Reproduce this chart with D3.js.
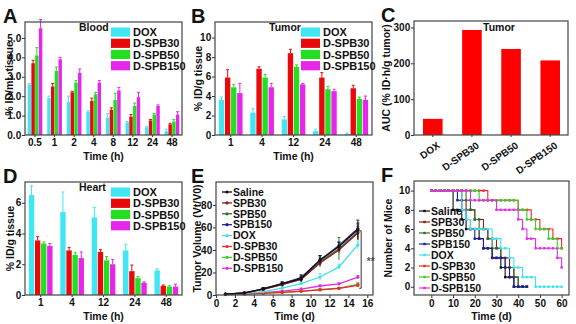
<!DOCTYPE html>
<html>
<head>
<meta charset="utf-8">
<script src="https://cdn.jsdelivr.net/npm/d3@7"></script>
<style>
  body { margin: 0; background: #fff; }
  svg { display: block; }
</style>
</head>
<body>
<svg id="fig" width="576" height="324"></svg>
<script>
const FONT = '"Liberation Sans", Arial, sans-serif';

// Shared series for the grouped bar panels (A, B, D)
const barNames = ["DOX", "D-SPB30", "D-SPB50", "D-SPB150"];
const barColors = ["#3fe6f4", "#e9080c", "#22df22", "#e626e8"];

// A: blood
const bloodTimes = ["0.5", "1", "2", "4", "8", "12", "24", "48"];
const bloodDOX = [2.6, 1.9, 1.7, 1.2, 0.9, 0.65, 0.4, 0.2];
const bloodSPB30 = [3.7, 2.5, 2.2, 1.75, 1.3, 0.95, 0.75, 0.55];
const bloodSPB50 = [4.1, 3.3, 2.7, 2.1, 1.8, 1.5, 1.05, 0.7];
const bloodSPB150 = [5.5, 3.9, 3.2, 2.7, 2.3, 1.95, 1.5, 1.05];
const bloodErrDOX = [0.05, 0.1, 0.3, 0.05, 0.2, 0.05, 0.05, 0.1];
const bloodErrSPB30 = [0.15, 0.15, 0.05, 0.15, 0.1, 0.1, 0.05, 0.05];
const bloodErrSPB50 = [0.4, 0.2, 0.1, 0.1, 0.35, 0.15, 0.05, 0.1];
const bloodErrSPB150 = [0.45, 0.1, 0.2, 0.1, 0.15, 0.25, 0.05, 0.15];

// B: tumor
const tumorTimes = ["1", "4", "12", "24", "48"];
const tumorDOX = [3.6, 2.3, 1.6, 0.4, 0.1];
const tumorSPB30 = [5.9, 6.8, 8.4, 5.9, 4.8];
const tumorSPB50 = [4.9, 5.9, 7.0, 4.7, 3.7];
const tumorSPB150 = [4.3, 4.9, 5.2, 4.5, 3.6];
const tumorErrDOX = [0.3, 0.4, 0.3, 0.2, 0.1];
const tumorErrSPB30 = [0.8, 0.2, 0.4, 0.5, 0.3];
const tumorErrSPB50 = [0.3, 0.3, 0.2, 0.3, 0.2];
const tumorErrSPB150 = [1.0, 0.4, 0.1, 0.2, 0.4];

// C: tumor AUC
const aucNames = ["DOX", "D-SPB30", "D-SPB50", "D-SPB150"];
const aucValues = [45, 293, 240, 208];

// D: heart
const heartTimes = ["1", "4", "12", "24", "48"];
const heartDOX = [6.5, 5.4, 5.05, 2.9, 1.6];
const heartSPB30 = [3.55, 2.9, 2.8, 1.55, 0.6];
const heartSPB50 = [3.35, 2.6, 2.25, 1.1, 0.55];
const heartSPB150 = [3.2, 2.4, 2.0, 0.8, 0.55];
const heartErrDOX = [0.6, 1.3, 0.65, 0.4, 0.1];
const heartErrSPB30 = [0.25, 0.2, 0.15, 0.4, 0.05];
const heartErrSPB50 = [0.1, 0.15, 0.25, 0.1, 0.05];
const heartErrSPB150 = [0.15, 0.4, 0.3, 0.05, 0.15];

// E: tumor volume
const volumeDays = [1, 3, 5, 7, 9, 11, 13, 15];
const volumeNames = ["Saline", "SPB30", "SPB50", "SPB150", "DOX", "D-SPB30", "D-SPB50", "D-SPB150"];
const volumeColors = ["#111111", "#8a1f1f", "#2f6f2f", "#1d1f9c", "#3fe0ee", "#f02828", "#3ccc2c", "#e22ee2"];
const volSaline = [0.8, 1.8, 5.5, 10, 14.5, 31, 43, 58];
const volSPB30 = [0.8, 1.7, 5, 9.2, 13.8, 28.5, 40, 55];
const volSPB50 = [0.8, 1.7, 5.2, 9.5, 14, 29.5, 41, 56];
const volSPB150 = [0.8, 1.8, 5.6, 10.2, 15.5, 31, 44, 59];
const volDOX = [0.6, 1.3, 3, 6.2, 10.2, 16, 25, 44.5];
const volDSPB30 = [0.4, 0.8, 1.5, 2.3, 3.3, 4.5, 5.8, 8.5];
const volDSPB50 = [0.4, 0.9, 1.6, 2.4, 3.5, 4.8, 6, 9.5];
const volDSPB150 = [0.5, 1, 2, 3.5, 5.3, 8, 9.8, 15.8];
const volErrSaline = [0.3, 0.5, 1, 1.5, 2.5, 4, 4, 8.5];
const volErrSPB30 = [0.3, 0.5, 1, 1.5, 2, 3.5, 3, 6];
const volErrSPB50 = [0.3, 0.5, 1, 1.5, 2, 4, 10, 7];
const volErrSPB150 = [0.3, 0.5, 1, 1.5, 2.5, 4, 3, 5];
const volErrDOX = [0.2, 0.3, 0.8, 1.2, 1.5, 3, 2.5, 3.5];
const volErrDSPB30 = [0.1, 0.2, 0.3, 0.5, 0.6, 0.8, 0.8, 1.2];
const volErrDSPB50 = [0.1, 0.2, 0.3, 0.5, 0.6, 0.8, 0.8, 1.5];
const volErrDSPB150 = [0.1, 0.2, 0.4, 0.6, 0.8, 1, 1, 1.5];

// F: survival, number of mice alive on each observation day
const survivalDays = [0, 2, 4, 6, 8, 10, 12, 14, 16, 18, 20, 22, 24, 26, 28, 30,
                      32, 34, 36, 38, 40, 42, 44, 46, 48, 50, 52, 54, 56, 58, 60];
const surSaline = [10, 10, 10, 10, 10, 8, 8, 7, 6, 6, 6, 5, 4, 4, 3, 3, 2, 1, 1, 0, 0, 0, 0];
const surSPB30 = [10, 10, 10, 10, 10, 10, 10, 9, 8, 8, 7, 7, 6, 5, 5, 4, 3, 3, 2, 1, 0, 0, 0];
const surSPB50 = [10, 10, 10, 10, 10, 10, 10, 10, 9, 8, 7, 6, 6, 5, 4, 4, 3, 2, 2, 1, 0, 0, 0];
const surSPB150 = [10, 10, 10, 10, 10, 10, 9, 8, 7, 6, 5, 5, 4, 4, 3, 3, 3, 2, 1, 0, 0, 0, 0];
const surDOX = [10, 10, 10, 10, 10, 10, 10, 8, 7, 6, 6, 6, 6, 6, 5, 5, 4, 4, 3, 2, 2, 1, 1, 1, 0, 0, 0, 0, 0, 0, 0];
const surDSPB30 = [10, 10, 10, 10, 10, 10, 10, 10, 10, 10, 10, 10, 10, 9, 9, 9, 9, 9, 9, 9, 8, 8, 8, 7, 7, 6, 6, 6, 5, 5, 4];
const surDSPB50 = [10, 10, 10, 10, 10, 10, 10, 10, 10, 10, 10, 9, 9, 9, 9, 9, 9, 9, 9, 9, 8, 8, 7, 7, 6, 6, 6, 5, 5, 4, 4];
const surDSPB150 = [10, 10, 10, 10, 10, 10, 10, 10, 10, 9, 9, 9, 9, 9, 9, 8, 8, 8, 8, 8, 7, 6, 5, 5, 4, 4, 4, 4, 4, 3, 2];

const svg = d3.select("#fig").attr("font-family", FONT).attr("font-weight", "bold");

// Axes, frame, titles and panel letter shared by every panel.
const drawFrame = (box, x, y, opt) => {
    const g = svg.append("g");

    const left = g.append("g")
        .attr("transform", `translate(${box.l},0)`)
        .call(d3.axisLeft(y).tickValues(opt.yTicks).tickSize(3).tickPadding(0.8));

    const bottom = g.append("g")
        .attr("transform", `translate(0,${box.b})`)
        .call(d3.axisBottom(x).tickValues(opt.xTicks).tickSize(opt.xTickSize ?? 3).tickPadding(2.3));

    g.selectAll(".domain").remove();
    g.selectAll(".tick line").attr("stroke", "#333").attr("stroke-width", 1);
    [left, bottom].forEach(a => a.attr("font-family", FONT).attr("font-size", 10).attr("font-weight", "bold"));
    g.selectAll("text").attr("fill", "#111");

    svg.append("rect")
        .attr("x", box.l).attr("y", box.t)
        .attr("width", box.r - box.l).attr("height", box.b - box.t)
        .attr("fill", "none").attr("stroke", "#444").attr("stroke-width", 1.2);

    svg.append("text")
        .attr("transform", `translate(${opt.yTitleX},${(box.t + box.b) / 2}) rotate(-90)`)
        .attr("text-anchor", "middle").attr("dy", "0.35em")
        .style("font-size", "10.5px").style("fill", "#111")
        .text(opt.yTitle);

    if (opt.xTitle) {
        svg.append("text")
            .attr("x", (box.l + box.r) / 2).attr("y", opt.xTitleY)
            .attr("text-anchor", "middle")
            .style("font-size", "10.5px").style("fill", "#111")
            .text(opt.xTitle);
    }

    svg.append("text")
        .attr("x", opt.letterX).attr("y", box.t + 1)
        .style("font-size", "20px").style("fill", "#111")
        .text(opt.letter);

    return bottom;
};

// Grouped bars with upward error bars and a swatch legend.
const drawGroupedBars = (box, cats, values, errors, yMax, yTicks, tag, opt) => {
    const x0 = d3.scaleBand().domain(cats).range([box.l, box.r]).paddingInner(opt.padInner).paddingOuter(opt.padOuter);
    const x1 = d3.scaleBand().domain(barNames).range([0, x0.bandwidth()]).padding(opt.barPad);
    const y = d3.scaleLinear().domain([0, yMax]).range([box.b, box.t]);

    const rows = cats.flatMap((c, i) => barNames.map((s, k) => ({
        cat: c, series: s, color: barColors[k], v: values[k][i], e: errors[k][i]
    })));

    const g = svg.append("g");
    g.selectAll("rect")
        .data(rows)
        .join("rect")
        .attr("x", d => x0(d.cat) + x1(d.series))
        .attr("y", d => y(d.v))
        .attr("width", x1.bandwidth())
        .attr("height", d => y(0) - y(d.v))
        .attr("fill", d => d.color);

    const cx = d => x0(d.cat) + x1(d.series) + x1.bandwidth() / 2;
    g.selectAll("line.err")
        .data(rows)
        .join("line")
        .attr("x1", cx).attr("x2", cx)
        .attr("y1", d => y(d.v)).attr("y2", d => y(d.v + d.e))
        .attr("stroke", d => d.color).attr("stroke-width", 1);
    g.selectAll("line.cap")
        .data(rows)
        .join("line")
        .attr("x1", d => cx(d) - 1.5).attr("x2", d => cx(d) + 1.5)
        .attr("y1", d => y(d.v + d.e)).attr("y2", d => y(d.v + d.e))
        .attr("stroke", d => d.color).attr("stroke-width", 1);

    drawFrame(box, x0, y, { ...opt, yTicks, xTicks: cats, xTickSize: 2 });

    // legend
    svg.append("text")
        .attr("x", box.l + 54).attr("y", box.t + 9)
        .style("font-size", "10.5px").style("fill", "#111")
        .text(tag);
    const leg = svg.append("g").attr("transform", `translate(${box.l + 86},${box.t + 5.5})`);
    barNames.forEach((name, k) => {
        leg.append("rect")
            .attr("x", 0).attr("y", k * 11.2)
            .attr("width", 19).attr("height", 9.2)
            .attr("fill", barColors[k]);
        leg.append("text")
            .attr("x", 22).attr("y", k * 11.2 + 8.6)
            .style("font-size", "11px").style("fill", "#111")
            .text(name);
    });
};

// A
drawGroupedBars(
    { l: 25, r: 182, t: 22, b: 135 }, bloodTimes,
    [bloodDOX, bloodSPB30, bloodSPB50, bloodSPB150],
    [bloodErrDOX, bloodErrSPB30, bloodErrSPB50, bloodErrSPB150],
    5.82, [0, 1, 2, 3, 4, 5], "Blood",
    { padInner: 0.22, padOuter: 0.12, barPad: 0.08, yTitle: "% ID/mL tissue", yTitleX: 9.5,
      xTitle: "Time (h)", xTitleY: 159.5, letter: "A", letterX: 3 }
);

// B
drawGroupedBars(
    { l: 215, r: 372, t: 22, b: 135 }, tumorTimes,
    [tumorDOX, tumorSPB30, tumorSPB50, tumorSPB150],
    [tumorErrDOX, tumorErrSPB30, tumorErrSPB50, tumorErrSPB150],
    11.6, [0, 2, 4, 6, 8, 10], "Tumor",
    { padInner: 0.2, padOuter: 0.1, barPad: 0.12, yTitle: "% ID/g tissue", yTitleX: 198,
      xTitle: "Time (h)", xTitleY: 159.5, letter: "B", letterX: 191 }
);

// D
drawGroupedBars(
    { l: 25, r: 182, t: 182, b: 295 }, heartTimes,
    [heartDOX, heartSPB30, heartSPB50, heartSPB150],
    [heartErrDOX, heartErrSPB30, heartErrSPB50, heartErrSPB150],
    7.35, [0, 2, 4, 6], "Heart",
    { padInner: 0.2, padOuter: 0.1, barPad: 0.12, yTitle: "% ID/g tissue", yTitleX: 10,
      xTitle: "Time (h)", xTitleY: 320, letter: "D", letterX: 3 }
);

// C: AUC bars
{
    const box = { l: 414, r: 568, t: 21, b: 135 };
    const x = d3.scaleBand().domain(aucNames).range([box.l, box.r + 1]).paddingInner(0.5).paddingOuter(0.23);
    const y = d3.scaleLinear().domain([0, 318]).range([box.b, box.t]);

    svg.append("g").selectAll("rect")
        .data(aucNames.map((n, i) => ({ n, v: aucValues[i] })))
        .join("rect")
        .attr("x", d => x(d.n)).attr("y", d => y(d.v))
        .attr("width", x.bandwidth()).attr("height", d => y(0) - y(d.v))
        .attr("fill", "#ff0000");

    const bottom = drawFrame(box, x, y, {
        yTicks: [0, 100, 200, 300], xTicks: aucNames, xTickSize: 2,
        yTitle: "AUC (% ID·h/g tumor)", yTitleX: 386, letter: "C", letterX: 381
    });
    bottom.selectAll(".tick text")
        .attr("y", 0).attr("dy", 0)
        .attr("transform", "translate(8,12) rotate(-35)")
        .attr("text-anchor", "end");

    svg.append("text")
        .attr("x", box.l + 69).attr("y", box.t + 10)
        .style("font-size", "10.5px").style("fill", "#111")
        .text("Tumor");
}

// E: tumor growth curves
{
    const box = { l: 216, r: 373, t: 182, b: 295 };
    const x = d3.scaleLinear().domain([0, 16.6]).range([box.l, box.r]);
    const y = d3.scaleLinear().domain([0, 100.4]).range([box.b, box.t]);
    const vals = [volSaline, volSPB30, volSPB50, volSPB150, volDOX, volDSPB30, volDSPB50, volDSPB150];
    const errs = [volErrSaline, volErrSPB30, volErrSPB50, volErrSPB150, volErrDOX, volErrDSPB30, volErrDSPB50, volErrDSPB150];
    const line = d3.line().x(d => x(d.t)).y(d => y(d.v));

    // draw treated groups first so the control curves sit on top
    d3.range(volumeNames.length).reverse().forEach(k => {
        const pts = volumeDays.map((t, i) => ({ t, v: vals[k][i], e: errs[k][i] }));
        const g = svg.append("g").attr("stroke", volumeColors[k]).attr("fill", volumeColors[k]);
        g.append("path").datum(pts).attr("d", line).attr("fill", "none").attr("stroke-width", 1.3);
        g.selectAll("line.e").data(pts).join("line")
            .attr("x1", d => x(d.t)).attr("x2", d => x(d.t))
            .attr("y1", d => y(d.v - d.e)).attr("y2", d => y(d.v + d.e))
            .attr("stroke-width", 0.9);
        g.selectAll("line.c").data(pts).join("line")
            .attr("x1", d => x(d.t) - 1.5).attr("x2", d => x(d.t) + 1.5)
            .attr("y1", d => y(d.v + d.e)).attr("y2", d => y(d.v + d.e))
            .attr("stroke-width", 0.9);
        g.selectAll("circle").data(pts).join("circle")
            .attr("cx", d => x(d.t)).attr("cy", d => y(d.v)).attr("r", 1.6)
            .attr("stroke", "none");
    });

    // significance bracket between control and treated groups
    const bx = x(15.35);
    svg.append("path")
        .attr("d", `M${bx - 2},${y(57)}H${bx}V${y(6)}H${bx - 2}`)
        .attr("fill", "none").attr("stroke", "#333").attr("stroke-width", 1);
    svg.append("text")
        .attr("x", x(15.95)).attr("y", y(31)).attr("dy", "0.5em")
        .style("font-size", "10px").style("fill", "#555")
        .text("**");

    drawFrame(box, x, y, {
        yTicks: [0, 20, 40, 60, 80], xTicks: d3.range(0, 17, 2),
        yTitle: "Tumor Volume (Vt/V0)", yTitleX: 197,
        xTitle: "Time (d)", xTitleY: 320, letter: "E", letterX: 191
    });

    const leg = svg.append("g").attr("transform", `translate(${box.l + 6},${box.t + 10})`);
    volumeNames.forEach((name, k) => {
        const row = leg.append("g").attr("transform", `translate(0,${k * 10.9})`);
        row.append("line").attr("x1", 0).attr("x2", 10).attr("stroke", volumeColors[k]).attr("stroke-width", 1.3);
        row.append("circle").attr("cx", 5).attr("r", 1.6).attr("fill", volumeColors[k]);
        row.append("text").attr("x", 11).attr("dy", "0.36em")
            .style("font-size", "10.5px").style("fill", "#111").text(name);
    });
}

// F: survival curves
{
    const box = { l: 414, r: 569, t: 181, b: 295 };
    const x = d3.scaleLinear().domain([-8, 63.4]).range([box.l, box.r]);
    const y = d3.scaleLinear().domain([-0.86, 11]).range([box.b, box.t]);
    const counts = [surSaline, surSPB30, surSPB50, surSPB150, surDOX, surDSPB30, surDSPB50, surDSPB150];
    const line = d3.line().x(d => x(d.t)).y(d => y(d.n)).curve(d3.curveStepAfter);

    counts.forEach((arr, k) => {
        const pts = arr.map((n, i) => ({ t: survivalDays[i], n }));
        const g = svg.append("g");
        g.append("path").datum(pts).attr("d", line)
            .attr("fill", "none").attr("stroke", volumeColors[k]).attr("stroke-width", 1.1);
        g.selectAll("rect").data(pts).join("rect")
            .attr("x", d => x(d.t) - 1.2).attr("y", d => y(d.n) - 1.2)
            .attr("width", 2.4).attr("height", 2.4)
            .attr("fill", volumeColors[k]);
    });

    drawFrame(box, x, y, {
        yTicks: [0, 2, 4, 6, 8, 10], xTicks: d3.range(0, 61, 10),
        yTitle: "Number of Mice", yTitleX: 388,
        xTitle: "Time (d)", xTitleY: 320, letter: "F", letterX: 381
    });

    const leg = svg.append("g").attr("transform", `translate(${box.l + 5},${box.t + 30})`);
    volumeNames.forEach((name, k) => {
        const row = leg.append("g").attr("transform", `translate(0,${k * 11})`);
        row.append("line").attr("x1", 0).attr("x2", 11).attr("stroke", volumeColors[k]).attr("stroke-width", 1.2);
        row.append("rect").attr("x", 4.3).attr("y", -1.2).attr("width", 2.4).attr("height", 2.4).attr("fill", volumeColors[k]);
        row.append("text").attr("x", 12).attr("dy", "0.36em")
            .style("font-size", "10.5px").style("fill", "#111").text(name);
    });
}
</script>
</body>
</html>
